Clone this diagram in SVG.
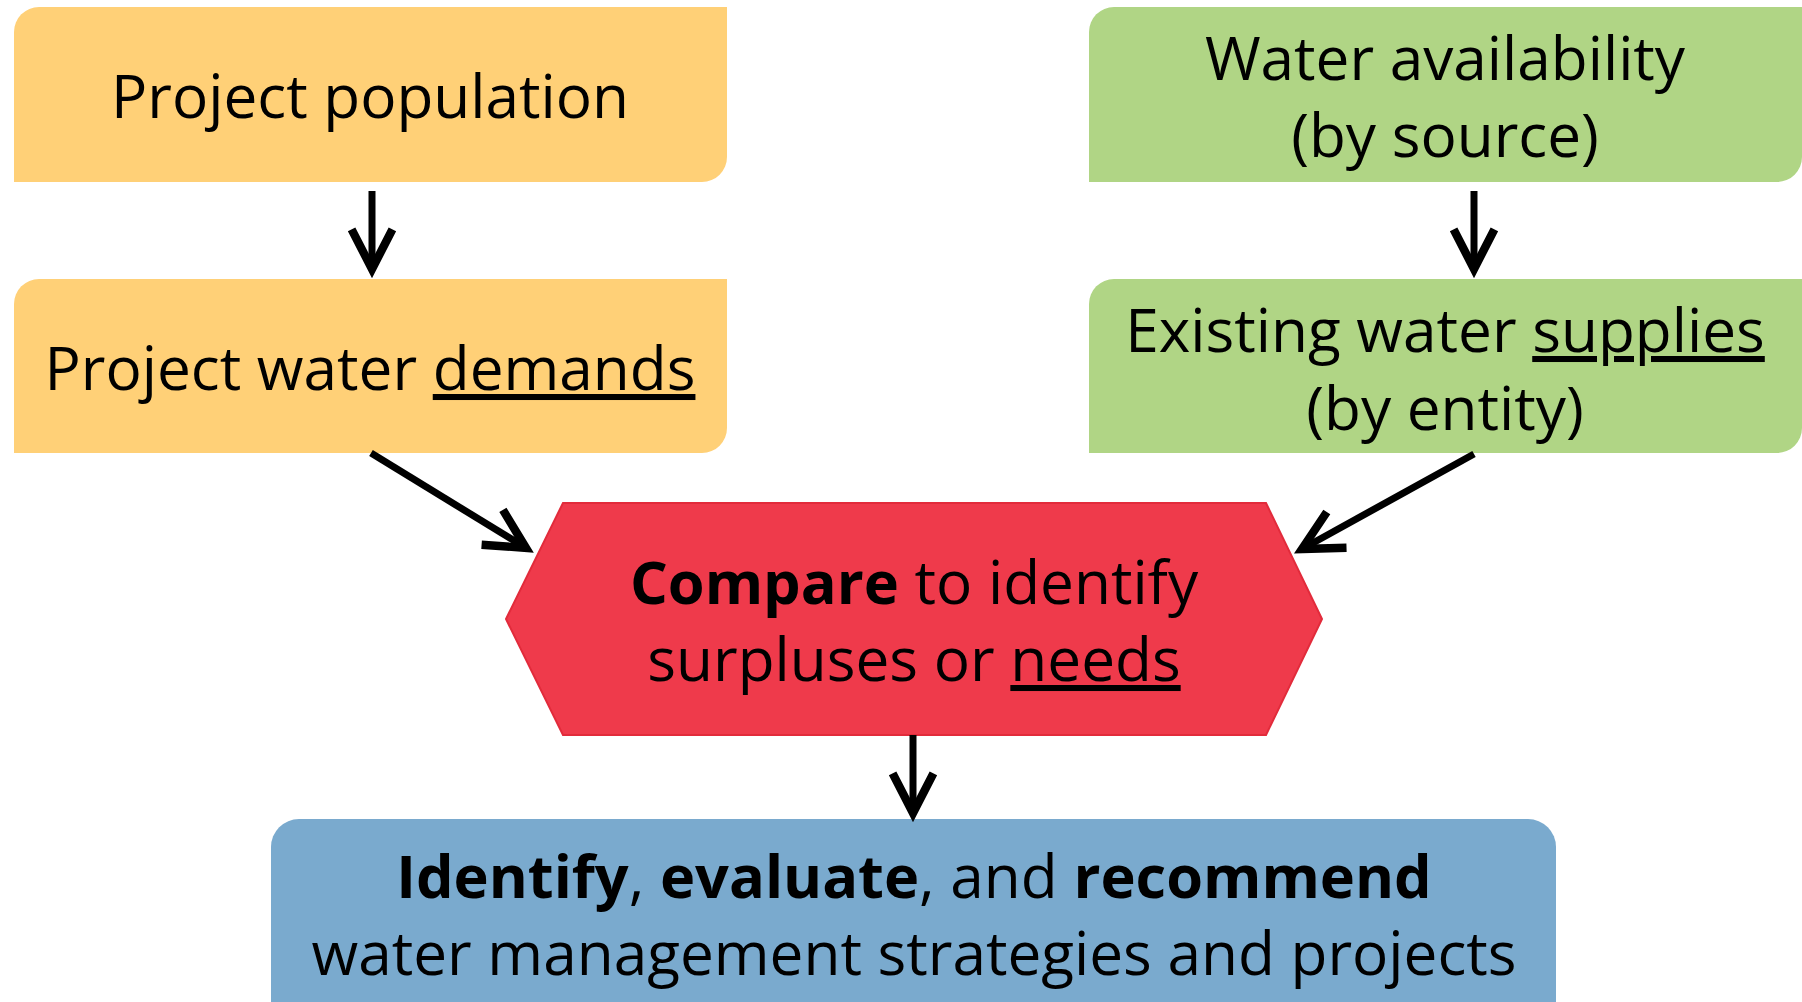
<svg xmlns="http://www.w3.org/2000/svg" width="1802" height="1002" viewBox="0 0 1802 1002">
<style>
.t{font-family:"Open Sans","Noto Sans","Liberation Sans",sans-serif;font-size:60.3px;fill:#000;text-anchor:middle}
.b{font-weight:bold;font-size:59.5px}
.u{text-decoration:underline}
.conn{stroke:#000;stroke-width:7;fill:none}
.orange{fill:#FFD077}
.green{fill:#B0D585}
.blue{fill:#7AAACE}
.red{fill:#EF3A4B;stroke:#E22B3B;stroke-width:2}
</style>
<defs>
<marker id="ah" markerUnits="userSpaceOnUse" orient="auto" refX="0" refY="0" markerWidth="60" markerHeight="60" viewBox="-40 -25 50 50" overflow="visible">
<path d="M-33,-17 L0,0 L-33,17" fill="none" stroke="#000" stroke-width="7" stroke-linejoin="miter" stroke-miterlimit="10"/>
</marker>
</defs>
<g id="node-population">
<path class="orange" d="M39,7 H727 V157 A25,25 0 0 1 702,182 H14 V32 A25,25 0 0 1 39,7 Z"/>
<text class="t" x="370" y="118">Project population</text>
</g>
<g id="node-demands">
<path class="orange" d="M39,279 H727 V428 A25,25 0 0 1 702,453 H14 V304 A25,25 0 0 1 39,279 Z"/>
<text class="t" x="370" y="390">Project water <tspan class="u">demands</tspan></text>
</g>
<g id="node-availability">
<path class="green" d="M1114,7 H1802 V157 A25,25 0 0 1 1777,182 H1089 V32 A25,25 0 0 1 1114,7 Z"/>
<text class="t" x="1445" y="80">Water availability</text>
<text class="t" x="1445" y="157">(by source)</text>
</g>
<g id="node-supplies">
<path class="green" d="M1114,279 H1802 V428 A25,25 0 0 1 1777,453 H1089 V304 A25,25 0 0 1 1114,279 Z"/>
<text class="t" x="1445" y="352">Existing water <tspan class="u">supplies</tspan></text>
<text class="t" x="1445" y="430">(by entity)</text>
</g>
<g id="node-compare">
<polygon class="red" points="563,503 1266,503 1322,619 1266,735 563,735 506,619"/>
<text class="t" x="914" y="604"><tspan class="b">Compare</tspan> to identify</text>
<text class="t" x="914" y="681">surpluses or <tspan class="u">needs</tspan></text>
</g>
<g id="node-strategies">
<rect class="blue" x="271" y="819" width="1285" height="220" rx="28" ry="28"/>
<text class="t" x="914" y="898"><tspan class="b">Identify</tspan>, <tspan class="b">evaluate</tspan>, and <tspan class="b">recommend</tspan></text>
<text class="t" x="914" y="975">water management strategies and projects</text>
</g>
<g id="connectors">
<line class="conn" x1="372" y1="191" x2="372" y2="269" marker-end="url(#ah)"/>
<line class="conn" x1="1474" y1="191" x2="1474" y2="269" marker-end="url(#ah)"/>
<line class="conn" x1="371" y1="453" x2="526" y2="548" marker-end="url(#ah)"/>
<line class="conn" x1="1474" y1="454" x2="1302" y2="549" marker-end="url(#ah)"/>
<line class="conn" x1="913" y1="735" x2="913" y2="813" marker-end="url(#ah)"/>
</g>
</svg>
